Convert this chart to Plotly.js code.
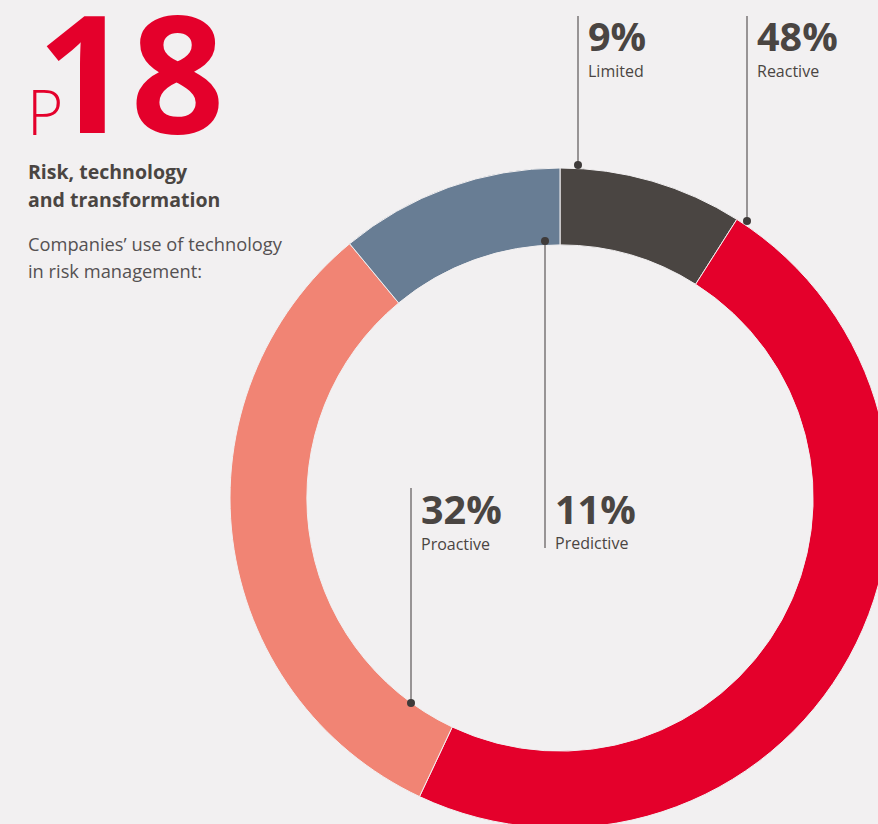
<!DOCTYPE html>
<html>
<head>
<meta charset="utf-8">
<script src="https://cdn.plot.ly/plotly-3.0.1.min.js"></script>
<style>
html,body{margin:0;padding:0;background:#f2f0f1;overflow:hidden;width:878px;height:824px;}
#chart{width:1120px;height:996px;}
</style>
</head>
<body>
<div id="chart"></div>
<script>
// Data
const categories = ["Limited", "Reactive", "Proactive", "Predictive"];
const shares = [9, 48, 32, 11];
const pctLabels = ["9%", "48%", "32%", "11%"];
const colors = ["#4a4542", "#e4002b", "#f18474", "#687d94"];
const headerLines = ["Risk, technology", "and transformation"];
const subLines = ["Companies’ use of technology", "in risk management:"];

// Layout geometry (pixels, within an oversized canvas cropped by the window)
const W = 1120, H = 996;
const cx = 560, cy = 498, R = 330;
const leader = [
  {dx: 578, dy: 165, y2: 16, lx: 586, py: 36, ny: 71},
  {dx: 747, dy: 221, y2: 16, lx: 755, py: 36, ny: 71},
  {dx: 411, dy: 703, y2: 488, lx: 419, py: 509, ny: 544},
  {dx: 545, dy: 241, y2: 548, lx: 553, py: 509, ny: 543}
];

const FONT = "'Open Sans', 'Noto Sans', sans-serif";
const dark = "#4a4542";

const pie = {
  type: "pie",
  values: shares,
  labels: categories,
  sort: false,
  direction: "clockwise",
  rotation: 0,
  hole: 0.767,
  textinfo: "none",
  hoverinfo: "label+percent",
  marker: {colors: colors, line: {color: "#f2f0f1", width: 1}},
  domain: {x: [(cx - R) / W, (cx + R) / W], y: [1 - (cy + R) / H, 1 - (cy - R) / H]},
  showlegend: false
};

const shapes = [];
const annotations = [];
leader.forEach((p, i) => {
  shapes.push({type: "line", xref: "x", yref: "y", x0: p.dx, x1: p.dx, y0: p.dy, y1: p.y2,
    line: {color: "#7a7676", width: 1.5}, layer: "above"});
  shapes.push({type: "circle", xref: "x", yref: "y", x0: p.dx - 4, x1: p.dx + 4, y0: p.dy - 4, y1: p.dy + 4,
    fillcolor: "#3f3b3a", line: {width: 0}, layer: "above"});
  annotations.push({xref: "x", yref: "y", x: p.lx, y: p.py, xanchor: "left", yanchor: "middle",
    text: pctLabels[i], showarrow: false, font: {family: FONT, size: 39.5, color: dark, weight: 700}});
  annotations.push({xref: "x", yref: "y", x: p.lx, y: p.ny, xanchor: "left", yanchor: "middle",
    text: categories[i], showarrow: false, font: {family: FONT, size: 16, color: dark}});
});

// Header texts
annotations.push({xref: "x", yref: "y", x: 25, y: 111, xanchor: "left", yanchor: "middle",
  text: "P", showarrow: false, font: {family: FONT, size: 62, color: "#e4002b", weight: 300}});
annotations.push({xref: "x", yref: "y", x: 35, y: 69, xanchor: "left", yanchor: "middle",
  text: "18", showarrow: false, font: {family: FONT, size: 164, color: "#e4002b", weight: 700}});
headerLines.forEach((t, i) => {
  annotations.push({xref: "x", yref: "y", x: 26, y: 171 + i * 28, xanchor: "left", yanchor: "middle",
    text: t, showarrow: false, font: {family: FONT, size: 19.5, color: dark, weight: 700}});
});
subLines.forEach((t, i) => {
  annotations.push({xref: "x", yref: "y", x: 26, y: 243 + i * 27, xanchor: "left", yanchor: "middle",
    text: t, showarrow: false, font: {family: FONT, size: 18.3, color: "#555152"}});
});

const layout = {
  width: W, height: H,
  margin: {l: 0, r: 0, t: 0, b: 0},
  paper_bgcolor: "#f2f0f1",
  plot_bgcolor: "rgba(0,0,0,0)",
  xaxis: {range: [0, W], visible: false, fixedrange: true},
  yaxis: {range: [H, 0], visible: false, fixedrange: true},
  shapes: shapes,
  annotations: annotations,
  showlegend: false
};

Plotly.newPlot("chart", [pie], layout, {displayModeBar: false, staticPlot: true});
</script>
</body>
</html>
